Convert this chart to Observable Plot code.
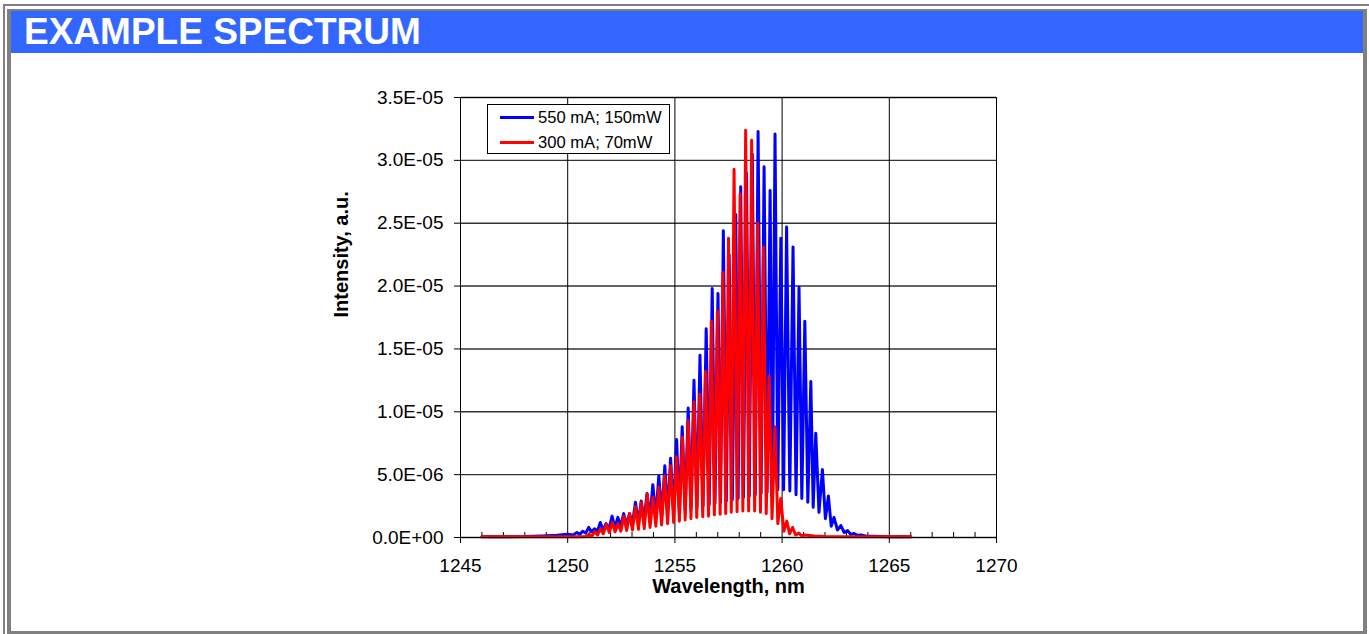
<!DOCTYPE html>
<html>
<head>
<meta charset="utf-8">
<script src="https://cdn.jsdelivr.net/npm/d3@7"></script>
<script src="https://cdn.jsdelivr.net/npm/@observablehq/plot@0.6"></script>
<style>
  html, body { margin: 0; padding: 0; background: #fff; overflow: hidden; }
  #page { position: relative; width: 1369px; height: 634px; overflow: hidden; font-family: "Liberation Sans", Arial, sans-serif; }
  #chart { position: absolute; left: 0; top: 0; }
  .outer { position: absolute; left: 3px; top: 4px; width: 1380px; height: 650px; border: 2px solid #808080; box-sizing: border-box; }
  .inner { position: absolute; left: 7px; top: 9px; width: 1360px; height: 626px; border-style: solid; border-color: #808080; border-width: 2px 4px 4px 4px; box-sizing: border-box; }
  .band { position: absolute; left: 11px; top: 11px; width: 1352px; height: 42px; background: #3366FF; }
  .band span { position: absolute; left: 13px; top: 0; line-height: 42px; color: #fff; font-weight: bold; font-size: 37px; }
  .legend { position: absolute; left: 487px; top: 104px; width: 183px; height: 50px; border: 1px solid #000; background: #fff; box-sizing: border-box; }
  .legend .sw { position: absolute; left: 12px; width: 34px; height: 3px; }
  .legend .lb { position: absolute; left: 50px; font-size: 16.6px; line-height: 20px; color: #000; white-space: nowrap; }
</style>
</head>
<body>
<div id="page">
  <div id="chart"></div>
  <div class="outer"></div>
  <div class="inner"></div>
  <div class="band"><span id="title"></span></div>
  <div class="legend" id="legend"></div>
</div>
<script>
const titleText = "EXAMPLE SPECTRUM";
const xTitle = "Wavelength, nm";
const yTitle = "Intensity, a.u.";
const seriesNames = ["550 mA; 150mW", "300 mA; 70mW"];
const seriesColors = ["#0000FF", "#FF0000"];

const xTicks = [1245, 1250, 1255, 1260, 1265, 1270];
const xTickLabels = ["1245", "1250", "1255", "1260", "1265", "1270"];
const xMinorTicks = [1246,1247,1248,1249,1251,1252,1253,1254,1256,1257,1258,1259,1261,1262,1263,1264,1266,1267,1268,1269];
const yTicks = [0, 5e-6, 1e-5, 1.5e-5, 2e-5, 2.5e-5, 3e-5, 3.5e-5];
const yTickLabels = ["0.0E+00", "5.0E-06", "1.0E-05", "1.5E-05", "2.0E-05", "2.5E-05", "3.0E-05", "3.5E-05"];

// [wavelength nm, intensity in units of 1E-06]
const blue550 = [[1246.0,0.05],[1248.0,0.07],[1248.8,0.12],[1249.5,0.18],[1250.0,0.25],[1250.25,0.2],
[1250.43,0.4],[1250.57,0.25],[1250.70,0.5],[1250.84,0.35],[1250.98,0.8],[1251.11,0.45],[1251.25,0.7],[1251.39,0.5],[1251.52,1.2],[1251.65,0.6],[1251.79,1.1],[1251.93,0.7],[1252.07,1.7],[1252.20,0.8],[1252.34,1.6],[1252.47,0.9],[1252.61,1.9],[1252.75,1.0],[1252.88,1.9],[1253.02,1.1],[1253.16,2.8],[1253.30,1.2],[1253.43,2.9],[1253.56,1.35],[1253.70,3.5],[1253.84,1.5],[1253.97,4.2],[1254.11,1.6],[1254.25,4.9],[1254.39,1.75],[1254.53,5.7],[1254.66,1.9],[1254.80,6.3],[1254.94,2.0],[1255.08,7.8],[1255.21,2.1],[1255.34,8.8],[1255.48,2.2],[1255.62,10.3],[1255.75,2.3],[1255.89,12.5],[1256.03,2.4],[1256.17,14.5],[1256.31,2.5],[1256.46,16.6],[1256.60,2.6],[1256.74,19.8],[1256.87,2.7],[1257.01,19.4],[1257.13,2.8],[1257.26,24.4],[1257.40,2.9],[1257.53,22.5],[1257.68,3.0],[1257.84,25.7],[1257.95,3.1],[1258.07,27.9],[1258.20,3.2],[1258.34,29.0],[1258.47,3.3],[1258.61,30.5],[1258.75,3.4],[1258.88,32.3],[1259.02,3.5],[1259.16,29.5],[1259.30,3.6],[1259.44,27.6],[1259.55,3.7],[1259.67,32.1],[1259.80,3.8],[1259.94,23.8],[1260.07,3.8],[1260.21,24.7],[1260.36,3.7],[1260.51,23.1],[1260.65,3.4],[1260.79,19.9],[1260.92,3.1],[1261.06,17.2],[1261.20,2.8],[1261.34,12.4],[1261.45,2.4],[1261.57,8.3],[1261.72,2.0],[1261.88,5.4],[1262.02,1.5],[1262.16,3.3],[1262.29,0.9],[1262.42,1.6],[1262.58,0.6],[1262.74,0.95],[1262.90,0.4],[1263.05,0.55],[1263.20,0.25],[1263.36,0.32],[1263.50,0.18],[1263.67,0.2],[1263.9,0.12],[1264.2,0.1],[1265.0,0.06],[1266.0,0.05]];

const red300 = [[1246.0,0.05],[1249.0,0.05],[1250.5,0.06],[1250.85,0.08],
[1250.99,0.25],[1251.12,0.1],[1251.26,0.45],[1251.40,0.2],[1251.53,0.7],[1251.66,0.3],[1251.80,1.05],[1251.94,0.4],[1252.08,1.2],[1252.21,0.45],[1252.35,1.1],[1252.48,0.5],[1252.62,1.7],[1252.75,0.55],[1252.89,1.9],[1253.02,0.6],[1253.16,2.45],[1253.30,0.65],[1253.43,2.8],[1253.57,0.7],[1253.71,3.45],[1253.84,0.8],[1253.98,3.2],[1254.11,0.9],[1254.25,4.0],[1254.38,1.0],[1254.52,4.9],[1254.66,1.1],[1254.80,5.7],[1254.94,1.2],[1255.08,6.4],[1255.21,1.3],[1255.35,8.0],[1255.48,1.4],[1255.62,9.3],[1255.75,1.5],[1255.89,10.8],[1256.02,1.6],[1256.16,11.4],[1256.30,1.65],[1256.43,13.2],[1256.57,1.7],[1256.70,17.2],[1256.84,1.8],[1256.98,18.0],[1257.11,1.85],[1257.24,21.1],[1257.37,1.9],[1257.50,23.8],[1257.63,2.0],[1257.76,29.3],[1257.90,2.05],[1258.04,27.3],[1258.17,2.1],[1258.30,32.4],[1258.44,2.1],[1258.58,31.6],[1258.72,2.1],[1258.86,25.0],[1258.99,2.0],[1259.13,23.1],[1259.26,1.9],[1259.39,12.8],[1259.53,1.5],[1259.67,8.8],[1259.80,1.1],[1259.94,3.1],[1260.08,0.5],[1260.22,1.3],[1260.35,0.3],[1260.49,0.8],[1260.63,0.2],[1260.78,0.35],[1260.92,0.12],[1261.05,0.2],[1261.5,0.12],[1262.0,0.08],[1264.0,0.06],[1266.0,0.05]];

const toRows = (arr) => arr.map(([w, v]) => ({w, v: v * 1e-6}));

document.getElementById("title").textContent = titleText;

const legend = document.getElementById("legend");
seriesNames.forEach((name, i) => {
  const sw = document.createElement("div");
  sw.className = "sw";
  sw.style.top = (11.2 + i * 25) + "px";
  sw.style.background = seriesColors[i];
  legend.appendChild(sw);
  const lb = document.createElement("div");
  lb.className = "lb";
  lb.style.top = (2.7 + i * 25) + "px";
  lb.textContent = name;
  legend.appendChild(lb);
});

const chart = Plot.plot({
  width: 1369,
  height: 634,
  marginLeft: 460,
  marginRight: 373,
  marginTop: 97,
  marginBottom: 97,
  style: {background: "transparent", fontFamily: "'Liberation Sans', Arial, sans-serif", fontSize: "19px", color: "#000", overflow: "visible"},
  x: {domain: [1245, 1270]},
  y: {domain: [0, 3.5e-5]},
  marks: [
    Plot.gridY(yTicks, {stroke: "#333", strokeOpacity: 1, strokeWidth: 1.4}),
    Plot.gridX(xTicks, {stroke: "#000", strokeOpacity: 1, strokeWidth: 1}),
    Plot.ruleX(xMinorTicks, {insetTop: 435, stroke: "#000", strokeWidth: 1}),
    Plot.line(toRows(blue550), {x: "w", y: "v", stroke: seriesColors[0], strokeWidth: 3}),
    Plot.line(toRows(red300), {x: "w", y: "v", stroke: seriesColors[1], strokeWidth: 3}),
    Plot.frame({stroke: "#000", strokeWidth: 1}),
    Plot.axisX({ticks: xTicks, tickSize: 6, tickPadding: 15, tickFormat: d => xTickLabels[xTicks.indexOf(d)], label: null, fontSize: 19}),
    Plot.axisY({ticks: yTicks, tickSize: 6, tickPadding: 11, tickFormat: d => yTickLabels[yTicks.indexOf(d)], label: null, fontSize: 19}),
    Plot.text([xTitle], {frameAnchor: "bottom", dy: 49, fontWeight: "bold", fontSize: 20, text: d => d, lineAnchor: "middle"}),
    Plot.text([yTitle], {frameAnchor: "left", dx: -119, rotate: -90, fontWeight: "bold", fontSize: 20, text: d => d, lineAnchor: "middle"})
  ]
});
document.getElementById("chart").appendChild(chart);
</script>
</body>
</html>
